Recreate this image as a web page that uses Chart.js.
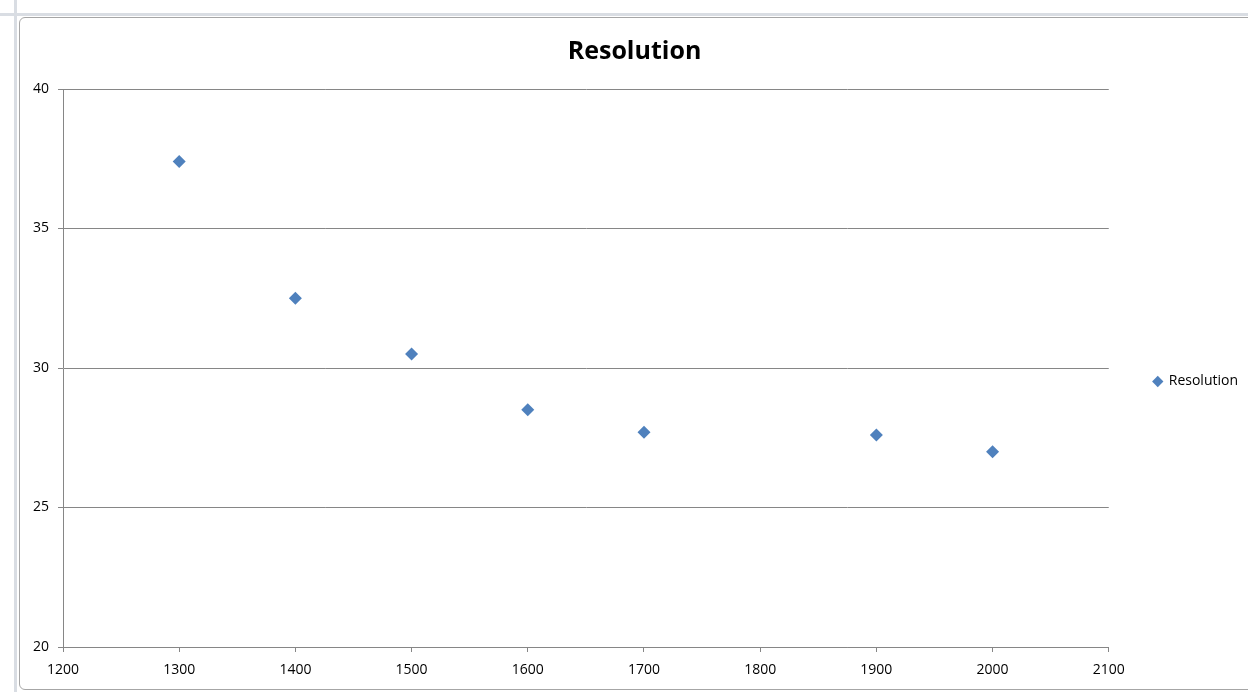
<!DOCTYPE html>
<html>
<head>
<meta charset="utf-8">
<script src="https://cdn.jsdelivr.net/npm/chart.js@4.4.0/dist/chart.umd.min.js"></script>
<style>
  html, body { margin: 0; padding: 0; background: #ffffff; width: 1248px; height: 692px; overflow: hidden; }
  #sheetTop { position: absolute; left: 0; top: 0; width: 1248px; height: 16px; background: #ffffff; border-bottom: 3px solid #d9dde3; box-sizing: border-box; }
  #sheetLeft { position: absolute; left: 0; top: 0; width: 17px; height: 692px; border-right: 3px solid #d9dde3; box-sizing: border-box; }
  #frame { position: absolute; left: 19px; top: 17px; width: 1240px; height: 673px; border: 1px solid #a6a6a6; border-radius: 6px; background: #ffffff; box-sizing: border-box; }
  #wrap { position: absolute; left: 21px; top: 19px; width: 1227px; height: 668px; }
</style>
</head>
<body>
<div id="sheetTop"></div>
<div id="sheetLeft"></div>
<div id="frame"></div>
<div id="wrap"><canvas id="c"></canvas></div>
<script>
const seriesName = "Resolution";
const xValues = [1300, 1400, 1500, 1600, 1700, 1900, 2000];
const yValues = [37.4, 32.5, 30.5, 28.5, 27.7, 27.6, 27.0];
const xTicks = [1200, 1300, 1400, 1500, 1600, 1700, 1800, 1900, 2000, 2100];
const yTicks = [20, 25, 30, 35, 40];

const points = xValues.map((x, i) => ({ x: x, y: yValues[i] }));
const axisColor = '#868686';
const fontFam = "'Open Sans', 'Liberation Sans', sans-serif";

new Chart(document.getElementById('c'), {
  type: 'scatter',
  data: {
    datasets: [{
      label: seriesName,
      data: points,
      pointStyle: 'rectRot',
      pointRadius: 6.5,
      pointHoverRadius: 6.5,
      backgroundColor: '#4F81BD',
      borderColor: '#4F81BD',
      borderWidth: 0
    }]
  },
  options: {
    responsive: true,
    maintainAspectRatio: false,
    animation: false,
    layout: { padding: { left: 0, right: 0, top: 0, bottom: 0 } },
    plugins: {
      title: {
        display: true,
        text: seriesName,
        color: '#000000',
        font: { family: fontFam, size: 25, weight: 'bold' },
        padding: { top: 18, bottom: 22 }
      },
      legend: {
        position: 'right',
        title: { display: true, text: '', font: { size: 10 }, padding: { top: 45, bottom: 0 } },
        labels: {
          usePointStyle: true,
          pointStyle: 'rectRot',
          boxWidth: 8,
          boxHeight: 8,
          color: '#000000',
          font: { family: fontFam, size: 14 },
          padding: 45
        }
      },
      tooltip: { enabled: false }
    },
    scales: {
      x: {
        type: 'linear',
        min: xTicks[0],
        max: xTicks[xTicks.length - 1],
        afterBuildTicks: (axis) => { axis.ticks = xTicks.map(v => ({ value: v })); },
        afterFit: (axis) => { axis.height = 40; },
        grid: { drawOnChartArea: false, drawTicks: true, tickLength: 5, color: axisColor },
        border: { display: true, color: axisColor, width: 1 },
        ticks: { color: '#000000', font: { family: fontFam, size: 14 }, padding: 10, maxRotation: 0,
                 callback: (v) => String(v) }
      },
      y: {
        type: 'linear',
        min: yTicks[0],
        max: yTicks[yTicks.length - 1],
        afterBuildTicks: (axis) => { axis.ticks = yTicks.map(v => ({ value: v })); },
        afterFit: (axis) => { axis.width = 42; },
        grid: { drawOnChartArea: true, drawTicks: true, tickLength: 5, color: axisColor },
        border: { display: true, color: axisColor, width: 1 },
        ticks: { color: '#000000', font: { family: fontFam, size: 14 }, padding: 9,
                 callback: (v) => String(v) }
      }
    }
  }
});
</script>
</body>
</html>
